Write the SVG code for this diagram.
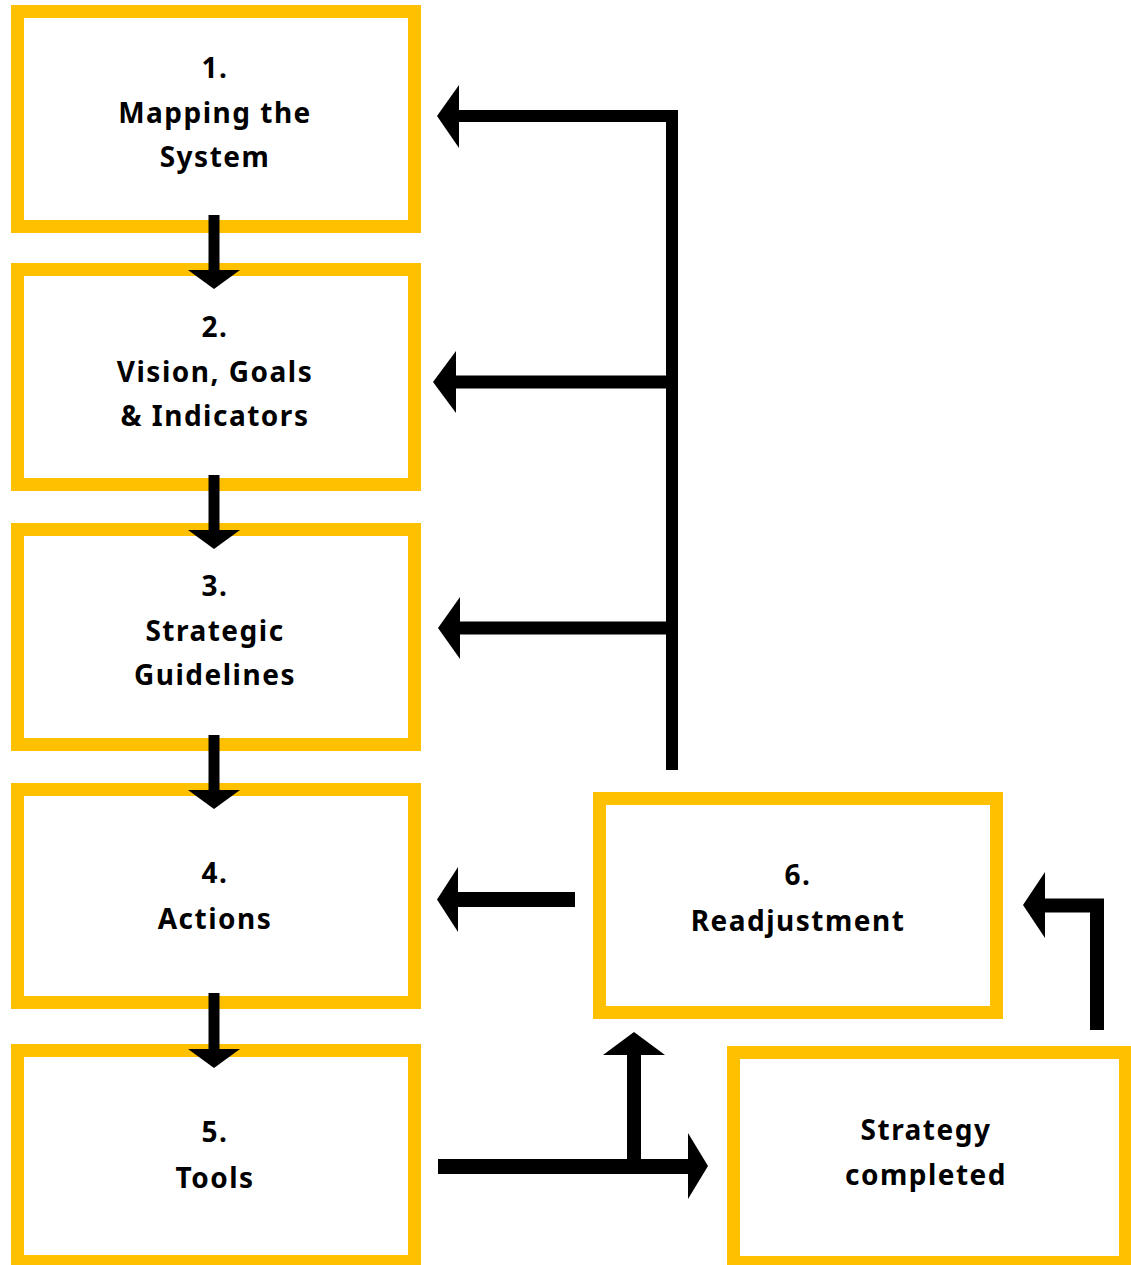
<svg xmlns="http://www.w3.org/2000/svg" width="1131" height="1265" viewBox="0 0 1131 1265">
<style>
.box{fill:#fff;stroke:#FFC000;stroke-width:13}
.t{font-family:"Noto Sans","Open Sans",sans-serif;font-weight:bold;font-size:28px;letter-spacing:1.5px;fill:#000;text-anchor:middle}
.ln{stroke:#000;stroke-width:13;fill:none}
.hd{fill:#000}
</style>
<rect width="1131" height="1265" fill="#fff"/>
<g id="node1"><rect class="box" x="17.5" y="11.5" width="397" height="215"/>
<text class="t" x="215" y="78">1.</text><text class="t" x="215" y="123">Mapping the</text><text class="t" x="215" y="167">System</text></g>
<g id="node2"><rect class="box" x="17.5" y="269.5" width="397" height="215"/>
<text class="t" x="215" y="337">2.</text><text class="t" x="215" y="382">Vision, Goals</text><text class="t" x="215" y="426">&amp; Indicators</text></g>
<g id="node3"><rect class="box" x="17.5" y="529.5" width="397" height="215"/>
<text class="t" x="215" y="596">3.</text><text class="t" x="215" y="641">Strategic</text><text class="t" x="215" y="685">Guidelines</text></g>
<g id="node4"><rect class="box" x="17.5" y="789.5" width="397" height="213"/>
<text class="t" x="215" y="883">4.</text><text class="t" x="215" y="929">Actions</text></g>
<g id="node5"><rect class="box" x="17.5" y="1050.5" width="397" height="211"/>
<text class="t" x="215" y="1142">5.</text><text class="t" x="215" y="1188">Tools</text></g>
<g id="node6"><rect class="box" x="599.5" y="798.5" width="397" height="214"/>
<text class="t" x="798" y="885">6.</text><text class="t" x="798" y="931">Readjustment</text></g>
<g id="node7"><rect class="box" x="733.5" y="1052.5" width="392" height="210"/>
<text class="t" x="926" y="1140">Strategy</text><text class="t" x="926" y="1185">completed</text></g>
<g id="connectors">
<line class="ln" x1="214" y1="215" x2="214" y2="272" style="stroke-width:11"/><polygon class="hd" points="188,270 240,270 214,289"/>
<line class="ln" x1="214" y1="475" x2="214" y2="532" style="stroke-width:11"/><polygon class="hd" points="188,530 240,530 214,549"/>
<line class="ln" x1="214" y1="735" x2="214" y2="792" style="stroke-width:11"/><polygon class="hd" points="188,790 240,790 214,809"/>
<line class="ln" x1="214" y1="993" x2="214" y2="1051" style="stroke-width:11"/><polygon class="hd" points="188,1049 240,1049 214,1068"/>
<path class="ln" d="M672,770 V116 H457" style="stroke-width:12;stroke-linejoin:miter"/>
<polygon class="hd" points="459,85 459,148 437,116"/>
<line class="ln" x1="672" y1="382" x2="454" y2="382" style="stroke-width:13"/>
<polygon class="hd" points="456,351 456,413 433,382"/>
<line class="ln" x1="672" y1="628" x2="458" y2="628" style="stroke-width:13"/>
<polygon class="hd" points="460,597 460,659 438,628"/>
<line class="ln" x1="575" y1="899.5" x2="456" y2="899.5" style="stroke-width:15"/>
<polygon class="hd" points="458,867 458,932 437,899.5"/>
<path class="ln" d="M1097,1030 V905.5 H1043" style="stroke-width:14;stroke-linejoin:miter"/>
<polygon class="hd" points="1045,872 1045,938 1023,905"/>
<line class="ln" x1="438" y1="1166.5" x2="690" y2="1166.5" style="stroke-width:15"/>
<polygon class="hd" points="688,1133 688,1199 708,1166"/>
<line class="ln" x1="634" y1="1166" x2="634" y2="1053" style="stroke-width:14"/>
<polygon class="hd" points="603,1055 665,1055 634,1032"/>
</g>
</svg>
